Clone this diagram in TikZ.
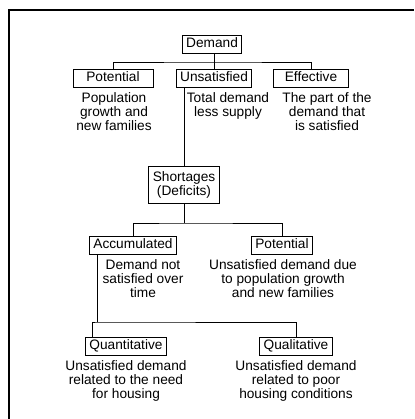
\documentclass[tikz,border=0pt]{standalone}
\usepackage{fontspec}
\setmainfont{Liberation Sans}
\usetikzlibrary{positioning}
\tikzset{
  boxbase/.style={draw=black, line width=0.9pt, inner xsep=4pt, inner ysep=2.5pt},
  catbox/.style={boxbase, text height=10pt, text depth=3pt},
  desc/.style={align=center, anchor=north, inner sep=0pt},
  link/.style={line width=0.9pt},
}

\begin{document}
\begin{tikzpicture}[x=1pt, y=-1pt, font=\fontsize{13.7}{14}\selectfont]
        \useasboundingbox (0,0) rectangle (414,419);
        \draw[line width=1.5pt] (9,419) -- (9,10) -- (414,10);
        % first level
        \node[catbox] (demand) at (212,44) {Demand};
        \node[catbox, minimum width=80pt] (pot) at (113,78) {Potential};
        \node[catbox] (unsat) at (214,78) {Unsatisfied};
        \node[catbox, minimum width=75pt] (eff) at (311,78) {Effective};
        \node[desc] (potd) at (114,92) {Population\\growth and\\new families};
        \node[desc] (unsatd) at (228,92) {Total demand\\less supply};
        \node[desc] (effd) at (327,92) {The part of the\\demand that\\is satisfied};
        % shortages
        \node[boxbase, align=center, inner ysep=5pt] (short) at (184,185) {Shortages\\(Deficits)};
        \node[catbox] (accum) at (133,245) {Accumulated};
        \node[catbox] (pot2) at (282,245) {Potential};
        \node[desc] (accumd) at (143,259) {Demand not\\satisfied over\\time};
        \node[desc] (pot2d) at (283,259) {Unsatisfied demand due\\to population growth\\and new families};
        % last level
        \node[catbox] (quant) at (126,346) {Quantitative};
        \node[catbox] (qual) at (296,346) {Qualitative};
        \node[desc] (quantd) at (126,360) {Unsatisfied demand\\related to the need\\for housing};
        \node[desc] (quald) at (296,360) {Unsatisfied demand\\related to poor\\housing conditions};
        % connectors
        \coordinate (bus1) at (213,62);
        \coordinate (bus2) at (184,223);
        \coordinate (bus3) at (97,322);
        \coordinate (drop) at (92,322);
        \draw[link] (unsat.north) -- (unsat.north |- demand.south);
        \draw[link] (pot.north) |- (bus1) -| (eff.north);
        \draw[link] (short.north) -- (short.north |- unsat.south);
        \draw[link] (short) -- (bus2);
        \draw[link] (accum.north) |- (bus2) -| (pot2.north);
        \draw[link] (accum.south -| bus3) -- (bus3);
        \draw[link] (quant.north -| drop) -- (drop) -- (bus3) -| (qual.north);
    \end{tikzpicture}
\end{document}
